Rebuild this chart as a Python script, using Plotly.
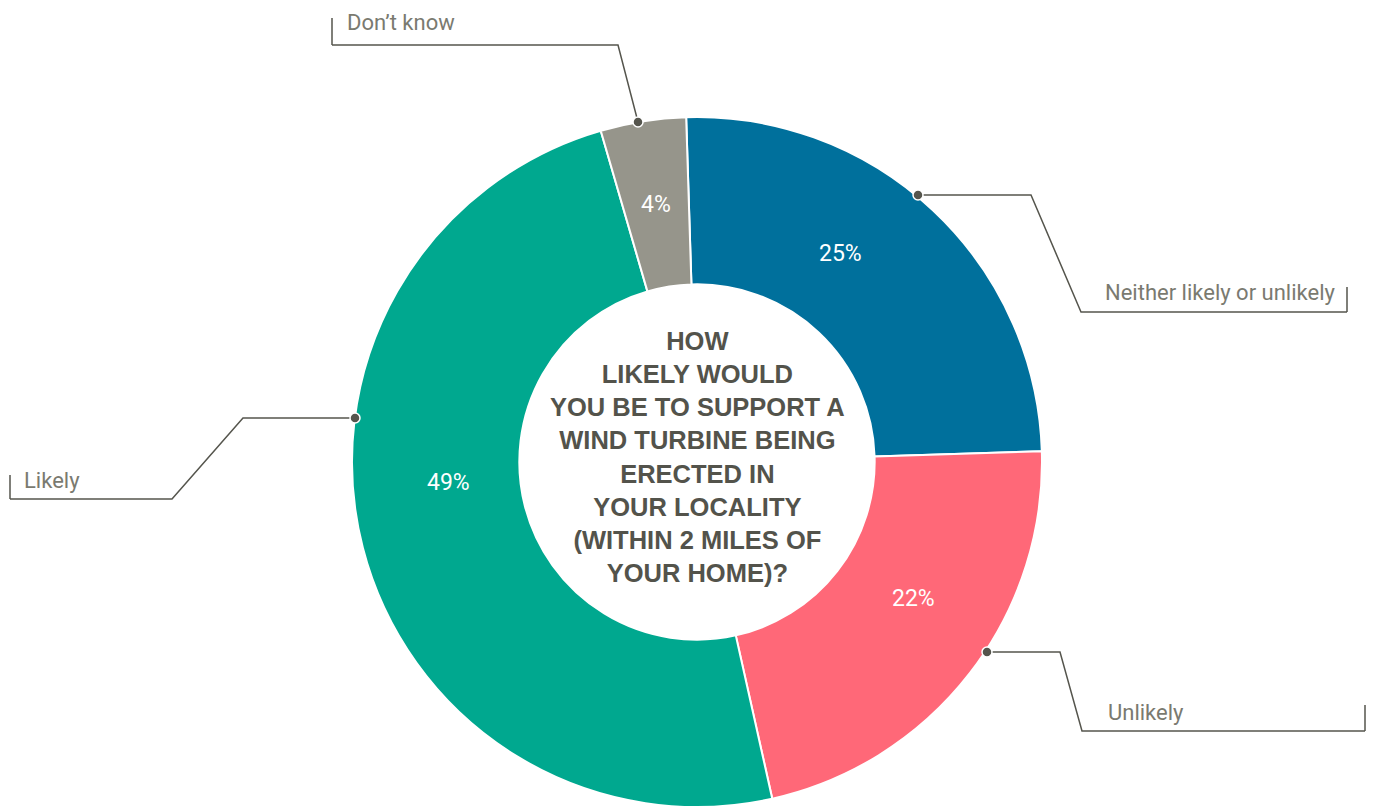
import plotly.graph_objects as go

# ---- data ----
categories = ["Neither likely or unlikely", "Unlikely", "Likely", "Don\u2019t know"]
values = [25, 22, 49, 4]
colors = ["#00709C", "#FF6878", "#00A88F", "#96958B"]
center_text = ["HOW", "LIKELY WOULD", "YOU BE TO SUPPORT A", "WIND TURBINE BEING",
               "ERECTED IN", "YOUR LOCALITY", "(WITHIN 2 MILES OF", "YOUR HOME)?"]

W, H = 1375, 807
OFF = 8  # page body margin
CX, CY = 697, 462
R = 345

def px(x):
    return (x - OFF) / W

def py(y):
    return 1 - (y - OFF) / H

NARROW = "Roboto, Liberation Sans, sans-serif"
LINE = "#55554D"
LABEL = "#7A7A70"

fig = go.Figure(go.Pie(
    labels=categories,
    values=values,
    marker=dict(colors=colors, line=dict(color="white", width=2)),
    hole=0.515,
    sort=False,
    direction="clockwise",
    rotation=-1.8,
    textinfo="none",
    hoverinfo="label+percent",
    domain=dict(x=[px(CX - 420), px(CX + 420)], y=[py(CY + R), py(CY - R)]),
    showlegend=False,
))

# percent labels inside slices (layout positions)
pct_pos = [(840, 254), (913, 598), (448, 482), (656, 205)]
annotations = []
for v, (x, y) in zip(values, pct_pos):
    annotations.append(dict(x=px(x), y=py(y), xref="paper", yref="paper",
                            text=f"{v}%", showarrow=False,
                            font=dict(family=NARROW, size=23, color="white"),
                            xanchor="center", yanchor="middle"))

# center question
annotations.append(dict(x=px(CX), y=py(457), xref="paper", yref="paper",
                        text="<br>".join(center_text), showarrow=False,
                        font=dict(family="Liberation Sans, Arial, sans-serif", size=25.5,
                                  color="#53534B", weight="bold"),
                        align="center", xanchor="center", yanchor="middle"))

# outside labels with leader lines
leaders = [
    (categories[3], 345, 23, "left", [(638, 122), (618, 45), (332, 45)], (332, 18, 45)),
    (categories[0], 1338, 292, "right", [(918, 195), (1031, 195), (1081, 312), (1347, 312)], (1347, 287, 312)),
    (categories[2], 22, 480, "left", [(355, 418), (243, 418), (172, 499), (10, 499)], (10, 475, 499)),
    (categories[1], 1106, 712, "left", [(987, 652), (1060, 652), (1082, 731), (1365, 731)], (1365, 705, 731)),
]

shapes = []
for label, tx, ty, anchor, pts, tick in leaders:
    annotations.append(dict(x=px(tx), y=py(ty), xref="paper", yref="paper",
                            text=label, showarrow=False,
                            font=dict(family=NARROW, size=22, color=LABEL),
                            xanchor=anchor, yanchor="middle"))
    path = "M " + " L ".join(f"{px(x)},{py(y)}" for x, y in pts)
    shapes.append(dict(type="path", path=path, xref="paper", yref="paper",
                       line=dict(color=LINE, width=1.5)))
    shapes.append(dict(type="line", xref="paper", yref="paper",
                       x0=px(tick[0]), x1=px(tick[0]), y0=py(tick[1]), y1=py(tick[2]),
                       line=dict(color=LINE, width=1.5)))
    dx, dy = pts[0]
    shapes.append(dict(type="circle", xref="paper", yref="paper",
                       xsizemode="pixel", ysizemode="pixel",
                       xanchor=px(dx), yanchor=py(dy),
                       x0=-5, x1=5, y0=-5, y1=5,
                       fillcolor=LINE, line=dict(color="white", width=1.5)))

fig.update_layout(
    width=W, height=H,
    margin=dict(l=0, r=0, t=0, b=0),
    paper_bgcolor="white",
    plot_bgcolor="white",
    annotations=annotations,
    shapes=shapes,
)

fig.write_html("out.html")
